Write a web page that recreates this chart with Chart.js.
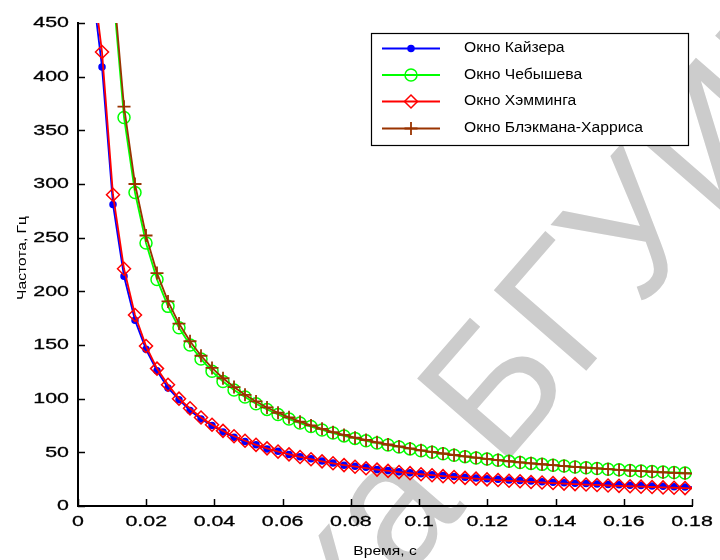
<!DOCTYPE html>
<html><head><meta charset="utf-8">
<script src="https://cdn.jsdelivr.net/npm/chart.js@4.4.0/dist/chart.umd.min.js"></script>
<style>html,body{margin:0;padding:0;background:#fff}</style>
</head><body>
<canvas id="c" width="720" height="560"></canvas>
<script>
// ---- data ----
const seriesNames = ['Окно Кайзера', 'Окно Чебышева', 'Окно Хэмминга', 'Окно Блэкмана-Харриса'];
const times = [0.00381,0.00704,0.01026,0.01349,0.01671,0.01994,0.02316,0.02639,0.02961,0.03284,
0.03606,0.03929,0.04251,0.04574,0.04896,0.05219,0.05541,0.05864,0.06186,0.06509,
0.06831,0.07154,0.07476,0.07799,0.08121,0.08444,0.08766,0.09089,0.09411,0.09734,
0.10056,0.10379,0.10701,0.11024,0.11346,0.11669,0.11991,0.12314,0.12636,0.12959,
0.13281,0.13604,0.13926,0.14249,0.14571,0.14894,0.15216,0.15539,0.15861,0.16184,
0.16506,0.16829,0.17151,0.17474,0.17796,0.18119];
const kaiser = [494,409,281,214,173,146,126,110,99,89,
81,75,69,64,60,57,53,51,48,46,
44,42,40,38,37,36,34,33,32,31,
30,29,28.4,27.6,26.9,26.2,25.5,24.9,24.3,23.7,
23.2,22.7,22.2,21.7,21.3,20.9,20.5,20.1,19.7,19.3,
19.0,18.7,18.3,18.0,17.7,17.4];
const chebyshev = [1280,692,480,362,292,245,211,186,166,150,
137,125.5,116,108,101.5,95.3,90,85.3,81,77.3,
74,70.8,68,65.3,63,60.7,58.7,56.8,55,53.2,
51.5,50,48.6,47.3,46,44.8,43.7,42.6,41.6,40.6,
39.7,38.8,38,37.2,36.4,35.7,35,34.3,33.7,33.1,
32.6,32.1,31.6,31.2,30.8,30.4];
const hamming = [505,423,290,221,178,149,128,113,100,91,
82.5,75.7,70,65,60.8,57,53.7,50.7,48.1,45.7,
43.6,41.6,39.8,38.1,36.6,35.2,33.9,32.7,31.6,30.6,
29.6,28.7,27.8,27.0,26.2,25.5,24.8,24.2,23.5,23.0,
22.4,21.9,21.4,20.9,20.4,20.0,19.6,19.1,18.8,18.4,
18.0,17.7,17.3,17.0,16.7,16.4];
const blackmanHarris = [1320,713,489,372,300,252,217,190.6,170,153.5,
140,128.6,119,110.8,103.6,97.4,91.8,86.9,82.6,78.6,
75.1,71.9,68.8,66.2,63.7,61.5,59.3,57.3,55.5,53.6,
51.9,50.4,48.9,47.5,46.2,45,43.9,42.8,41.7,40.7,
39.8,38.9,38,37.2,36.4,35.7,35,34.3,33.6,33,
32.4,31.9,31.4,30.9,30.4,30];
const xTicks = [0,0.02,0.04,0.06,0.08,0.1,0.12,0.14,0.16,0.18];
const xTickLabels = ['0','0.02','0.04','0.06','0.08','0.1','0.12','0.14','0.16','0.18'];
const yTicks = [0,50,100,150,200,250,300,350,400,450];
const yTickLabels = ['0','50','100','150','200','250','300','350','400','450'];
const xTitle = 'Время, с';
const yTitle = 'Частота, Гц';

// ---- styles ----
const XMAX = 0.18, YMAX = 450;
const styles = [
  {color:'#0000ff', pointStyle:'circle', radius:3, fill:true, bw:1.5},
  {color:'#00ff00', pointStyle:'circle', radius:6, fill:false, bw:1.5},
  {color:'#ff0000', pointStyle:'rectRot', radius:6.5, fill:false, bw:1.5},
  {color:'#993300', pointStyle:'cross', radius:6.5, fill:false, bw:1.8}
];
const allSeries = [kaiser, chebyshev, hamming, blackmanHarris];

function mk(i){
  const s = styles[i];
  return {
    label: seriesNames[i],
    data: times.map((t,k)=>({x:t, y:allSeries[i][k]})),
    borderColor: s.color,
    borderWidth: 1.8,
    backgroundColor: s.fill ? s.color : 'rgba(0,0,0,0)',
    pointBorderColor: s.color,
    pointBackgroundColor: s.fill ? s.color : 'rgba(0,0,0,0)',
    pointStyle: s.pointStyle,
    pointBorderWidth: s.bw,
    pointRadius: ctx => {
      const r = ctx.raw; if (!r) return 0;
      return (r.x > XMAX || r.y > YMAX) ? 0 : s.radius;
    },
    pointHoverRadius: 0,
    tension: 0,
    clip: 0,
    order: 4 - i
  };
}

function stretchText(ctx, txt, x, y, align, sx, bold){
  ctx.save(); ctx.translate(x, y); ctx.scale(sx, 1);
  ctx.textAlign = align; ctx.fillText(txt, 0, 0);
  if (bold) { ctx.lineWidth = bold; ctx.strokeStyle = ctx.fillStyle; ctx.strokeText(txt, 0, 0); }
  ctx.restore();
}

const matlab = {
  id: 'matlab',
  beforeDraw(chart){
    const ctx = chart.ctx;
    ctx.save();
    ctx.fillStyle = '#ffffff'; ctx.fillRect(0,0,chart.width,chart.height);
    ctx.fillStyle = '#cccccc';
    ctx.font = '178px "Liberation Sans", Arial, sans-serif';
    ctx.translate(500, 470);
    ctx.rotate(-49 * Math.PI/180);
    ctx.textAlign = 'right';
    ctx.fillText('Библиотека ', 0, 0);
    ctx.textAlign = 'left';
    ctx.fillText('БГУИР', 0, 0);
    ctx.restore();
  },
  afterDraw(chart){
    const ctx = chart.ctx, xs = chart.scales.x, ys = chart.scales.y, a = chart.chartArea;
    ctx.save();
    ctx.strokeStyle = '#000'; ctx.lineWidth = 1.5;
    xTicks.forEach(v => { const px = Math.round(xs.getPixelForValue(v)) + 0.5;
      ctx.beginPath(); ctx.moveTo(px, a.bottom); ctx.lineTo(px, a.bottom - 7); ctx.stroke(); });
    yTicks.forEach(v => { const py = Math.round(ys.getPixelForValue(v)) + 0.5;
      ctx.beginPath(); ctx.moveTo(a.left, py); ctx.lineTo(a.left + 7, py); ctx.stroke(); });
    ctx.fillStyle = '#000';
    ctx.font = '15.5px "Liberation Sans", Arial, sans-serif';
    ctx.textBaseline = 'middle';
    xTicks.forEach((v,i) => stretchText(ctx, xTickLabels[i], xs.getPixelForValue(v), a.bottom + 16, 'center', 1.38, 0.3));
    yTicks.forEach((v,i) => stretchText(ctx, yTickLabels[i], a.left - 9, ys.getPixelForValue(v), 'right', 1.38, 0.3));
    ctx.font = '12px "Liberation Sans", Arial, sans-serif';
    ctx.textBaseline = 'alphabetic';
    stretchText(ctx, xTitle, (a.left + a.right)/2, 555, 'center', 1.3);
    ctx.save(); ctx.translate(26, 258); ctx.rotate(-Math.PI/2);
    ctx.scale(1.3,1); ctx.textAlign='center'; ctx.fillText(yTitle, 0, 0); ctx.restore();
    const L = 371, T = 33, R = 688, B = 145;
    ctx.fillStyle = '#fff'; ctx.fillRect(L, T, R-L, B-T);
    ctx.lineWidth = 1.2; ctx.strokeStyle = '#000';
    ctx.strokeRect(L+0.5, T+0.5, R-L, B-T);
    const rowY = [48.5, 75, 101.5, 128.5];
    ctx.font = '14px "Liberation Sans", Arial, sans-serif';
    ctx.textBaseline = 'middle';
    seriesNames.forEach((name, i) => {
      const s = styles[i], y = rowY[i];
      ctx.strokeStyle = s.color; ctx.lineWidth = 1.8;
      ctx.beginPath(); ctx.moveTo(382, y); ctx.lineTo(440, y); ctx.stroke();
      ctx.fillStyle = s.fill ? s.color : 'rgba(0,0,0,0)';
      ctx.lineWidth = s.bw;
      Chart.helpers.drawPoint(ctx, {pointStyle: s.pointStyle, radius: s.radius, rotation: 0, borderWidth: s.bw}, 411, y);
      ctx.fillStyle = '#000';
      stretchText(ctx, name, 464, y, 'left', 1.12);
    });
    ctx.restore();
  }
};

new Chart(document.getElementById('c'), {
  type: 'line',
  data: { datasets: [mk(0), mk(1), mk(2), mk(3)] },
  options: {
    responsive: false, animation: false, devicePixelRatio: 1,
    layout: { padding: { left: 78, top: 23, right: 28, bottom: 54 } },
    plugins: { legend: { display: false }, tooltip: { enabled: false } },
    scales: {
      x: { type: 'linear', min: 0, max: XMAX,
        ticks: { display: false }, grid: { display: false, drawTicks: false },
        border: { display: true, color: '#000', width: 2 } },
      y: { type: 'linear', min: 0, max: YMAX,
        ticks: { display: false }, grid: { display: false, drawTicks: false },
        border: { display: true, color: '#000', width: 2 } }
    }
  },
  plugins: [matlab]
});
</script>
</body></html>
